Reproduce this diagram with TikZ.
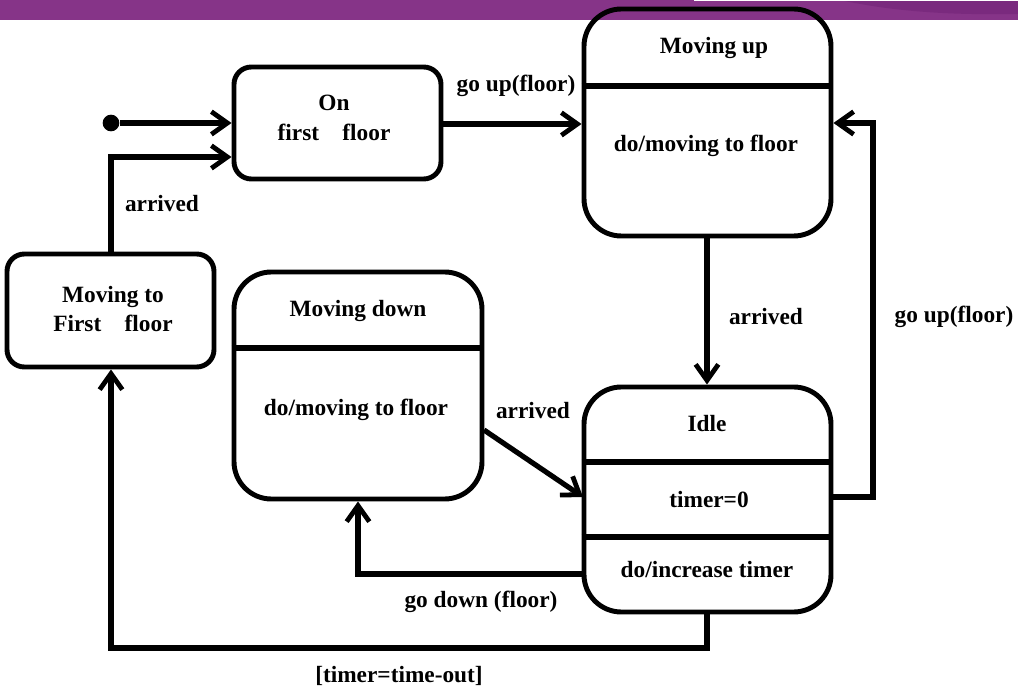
\documentclass[tikz,border=0pt]{standalone}
\usepackage{fontspec}
\setmainfont{Liberation Serif}[BoldFont={Liberation Serif Bold}]
\newfontfamily\tnrb{Liberation Serif Bold}
\usetikzlibrary{arrows.meta,fit,calc}
\definecolor{band}{HTML}{863488}
\definecolor{bandd}{HTML}{7A2A7E}
\begin{document}
\begin{tikzpicture}[x=0.75pt,y=-0.75pt,
  lbl/.style={font=\tnrb\fontsize{17.5}{21}\selectfont, inner sep=0pt, align=center},
  smallbox/.style={draw, line width=3.7pt, rounded corners=13pt, inner sep=0pt},
  bigbox/.style={draw, line width=3.7pt, rounded corners=28pt, inner sep=0pt},
  divider/.style={line width=4pt},
  arr/.style={line width=3.9pt, -{Straight Barb[length=12pt,width=17pt,line width=3.6pt]}}]
\useasboundingbox (0,0) rectangle (1018,691);
% header band
\fill[band] (0,0) rectangle (1018,20.5);
\fill[bandd] (840,0) .. controls (900,13) and (960,15) .. (1018,14) -- (1018,0) -- cycle;
\fill[white] (694,0) rectangle (1018,1.5);
% states
\node[smallbox, fit={(234,67) (441,179)}] (on) {};
\node[lbl] (ontxt) at (334,118) {On\\[1pt]first\quad floor};
\node[bigbox, fit={(584,9) (831,236)}] (mu) {};
\node[lbl] (mutitle) at (714,48) {Moving up};
\node[lbl] (mudo) at (706,146) {do/moving to floor};
\node[smallbox, fit={(7,254) (214,367)}] (mtf) {};
\node[lbl] (mtftxt) at (113,309) {Moving to\\[1pt]First\quad floor};
\node[bigbox, fit={(234,272) (482,499)}] (md) {};
\node[lbl] (mdtitle) at (358,311) {Moving down};
\node[lbl] (mddo) at (356,410) {do/moving to floor};
\node[bigbox, fit={(584,387) (831,612)}] (idle) {};
\node[lbl] (idletitle) at (707,424) {Idle};
\node[lbl] (idletimer) at (709,500) {timer=0};
\node[lbl] (idledo) at (707,570) {do/increase timer};
% compartment lines
\draw[divider] (mu.west |- 0,86) -- (mu.east |- 0,86);
\draw[divider] (md.west |- 0,348) -- (md.east |- 0,348);
\draw[divider] (idle.west |- 0,462) -- (idle.east |- 0,462);
\draw[divider] (idle.west |- 0,537) -- (idle.east |- 0,537);
% initial state
\node[circle, fill, inner sep=0pt, minimum size=12.5pt] (init) at (111,123) {};
% transitions
\draw[arr] (init) -- (init -| on.west);
\coordinate (mtfup) at (111,157);
\draw[arr] (mtf.north -| mtfup) -- (mtfup) -- (mtfup -| on.west);
\node[lbl] (l1) at (162,204) {arrived};
\draw[arr] (on.east |- 0,124) -- (mu.west |- 0,124);
\node[lbl] (l2) at (516,86) {go up(floor)};
\draw[arr] (mu.south -| 707,0) -- (idle.north -| 707,0);
\node[lbl] (l3) at (766,317) {arrived};
\coordinate (rgt) at (873,497);
\draw[arr] (idle.east |- rgt) -- (rgt) -- (873,123) -- (mu.east |- 0,123);
\node[lbl] (l4) at (954,317) {go up(floor)};
\draw[arr] (484,430) -- (583,497);
\node[lbl] (l5) at (533,411) {arrived};
\coordinate (dl) at (358,574);
\draw[arr] (idle.west |- dl) -- (dl) -- (md.south -| dl);
\node[lbl] (l6) at (481,602) {go down (floor)};
\coordinate (bl) at (111,648);
\draw[arr] (idle.south -| 707,0) -- (707,648) -- (bl) -- (mtf.south -| bl);
\node[lbl] (l7) at (399,676) {[timer=time-out]};
\end{tikzpicture}
\end{document}
